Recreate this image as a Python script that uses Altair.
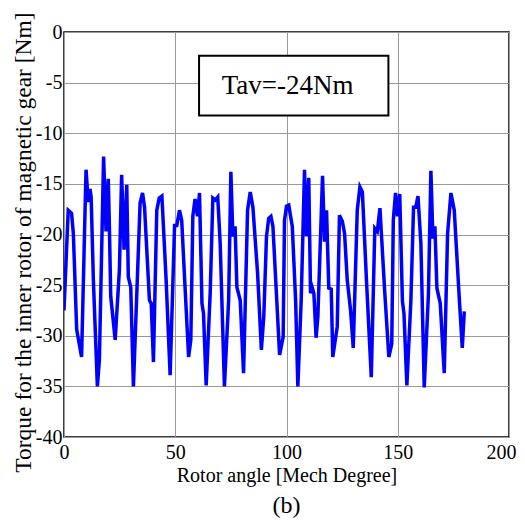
import altair as alt
import pandas as pd

angle = [0, 1.9, 3.4, 4.2, 5.7, 7.9, 9.9, 10.9, 11.7, 12.2, 13.2, 15.0, 15.9, 17.8, 18.9, 19.9,
         20.4, 21.0, 23.0, 24.9, 25.9, 27.0, 28.2, 28.9, 30.0, 31.2, 34.2, 35.3, 36.2, 38.4, 39.2,
         40.2, 41.7, 42.8, 44.0, 45.9, 47.7, 49.7, 50.7, 51.9, 52.9, 54.4, 56.0, 57.0, 57.9, 58.9,
         60.0, 60.9, 62.0, 62.7, 63.9, 65.7, 66.9, 68.0, 69.1, 70.2, 72.1, 74.0, 75.0, 75.9, 76.9,
         77.7, 79.2, 80.7, 82.5, 83.7, 84.9, 87.0, 88.7, 89.8, 91.0, 92.0, 93.0, 93.9, 96.9, 98.5,
         99.1, 100.0, 101.0, 102.6, 104.1, 105.1, 106.6, 108.1, 109.0, 110.0, 110.8, 111.5, 112.3,
         113.3, 114.1, 116.2, 117.1, 118.0, 119.0, 120.1, 120.8, 122.8, 123.8, 125.1, 126.1, 127.3,
         128.8, 130.0, 131.8, 133.0, 134.1, 136.0, 138.1, 139.7, 140.8, 142.0, 144.1, 146.0, 147.3,
         148.0, 149.0, 149.9, 150.9, 152.1, 152.8, 154.1, 155.9, 157.1, 158.1, 159.1, 160.4, 161.9,
         163.8, 164.9, 165.8, 166.7, 167.6, 169.1, 170.9, 172.4, 173.9, 175.4, 177.6, 179.0, 179.9]
torque = [-27.5, -17.6, -17.9, -19.9, -29.4, -32.1, -13.6, -16.8, -15.5, -16.3, -24.5, -35.0, -32.4,
          -12.3, -19.7, -14.5, -19.2, -26.1, -30.4, -23.5, -14.1, -21.5, -15.1, -24.2, -25.2, -35.0,
          -16.9, -15.9, -17.3, -26.5, -26.8, -32.6, -17.6, -16.4, -16.2, -24.5, -33.9, -19.1, -19.1,
          -17.6, -18.6, -25.2, -32.1, -30.4, -18.2, -16.5, -18.2, -15.9, -26.8, -27.8, -34.9, -25.8,
          -16.4, -16.6, -16.3, -20.9, -35.0, -26.5, -13.8, -20.2, -19.2, -25.2, -26.5, -33.7, -17.6,
          -15.8, -17.3, -23.8, -31.4, -28.1, -20.2, -18.4, -18.2, -19.2, -31.9, -30.1, -18.6, -17.2,
          -17.1, -19.2, -26.5, -35.0, -26.5, -13.6, -20.2, -14.4, -25.8, -25.2, -25.8, -30.2, -28.1,
          -14.2, -20.7, -17.6, -25.3, -25.4, -32.1, -29.1, -18.1, -18.7, -19.9, -24.5, -27.5, -31.2,
          -17.6, -15.3, -15.8, -24.8, -34.1, -19.4, -19.7, -17.4, -25.5, -32.1, -30.8, -18.6, -15.9,
          -18.2, -16.0, -26.6, -27.8, -34.9, -26.5, -17.3, -17.3, -16.2, -20.9, -35.1, -25.8, -13.7,
          -20.4, -19.2, -25.3, -26.8, -33.7, -19.9, -15.9, -17.6, -26.1, -31.2, -27.6]

x_ticks = [0, 50, 100, 150, 200]
y_ticks = [0, -5, -10, -15, -20, -25, -30, -35, -40]

box_label = ["Tav=-24Nm"]
box_x = [60.7]
box_x2 = [145.8]
box_y = [-2.35]
box_y2 = [-8.25]
label_x = [100.5]
label_y = [-5.3]

FONT = "Liberation Serif"

df = pd.DataFrame({"angle": angle, "torque": torque})
box_df = pd.DataFrame({"x": box_x, "x2": box_x2, "y": box_y, "y2": box_y2,
                       "lx": label_x, "ly": label_y, "label": box_label})

xscale = alt.Scale(domain=[0, 200], nice=False, zero=False)
yscale = alt.Scale(domain=[-40, 0], nice=False, zero=False)

lab_expr = "datum.value < 0 ? '-' + abs(datum.value) : '' + datum.value"

line = alt.Chart(df).mark_line(color="#0000ff", strokeWidth=3.5, clip=True).encode(
    x=alt.X("angle:Q", scale=xscale,
            axis=alt.Axis(values=x_ticks, title="Rotor angle [Mech Degree]", labelExpr=lab_expr,
                          labelPadding=5, titlePadding=3,
                          labelOffset=alt.condition("datum.value == 200", alt.value(-8), alt.value(0)))),
    y=alt.Y("torque:Q", scale=yscale,
            axis=alt.Axis(values=y_ticks, title="Torque for the inner rotor of magnetic gear [Nm]",
                          labelExpr=lab_expr, labelPadding=2, titlePadding=0,
                          titleFontSize=23.5, titleY=210)),
)

box = alt.Chart(box_df).mark_rect(fill="white", stroke="black", strokeWidth=2).encode(
    x=alt.X("x:Q", scale=xscale), x2="x2:Q",
    y=alt.Y("y:Q", scale=yscale), y2="y2:Q",
)

text = alt.Chart(box_df).mark_text(font=FONT, fontSize=27, color="black",
                                   align="center", baseline="middle").encode(
    x=alt.X("lx:Q", scale=xscale), y=alt.Y("ly:Q", scale=yscale), text="label:N"
)

chart = alt.layer(line, box, text).properties(
    width=445, height=405,
    title=alt.TitleParams("(b)", orient="bottom", font=FONT, fontSize=24, fontWeight="normal",
                          color="black", anchor="middle", offset=9),
    autosize=alt.AutoSizeParams(type="none"),
    padding={"left": 56, "top": 24, "right": 8, "bottom": 82},
).configure(
    background="white", font=FONT
).configure_view(
    stroke="black", strokeWidth=1.5
).configure_axis(
    grid=True, gridColor="#9a9a9a", gridWidth=1, ticks=False, domain=False,
    labelFont=FONT, labelFontSize=20, labelColor="black", labelFlush=False,
    titleFont=FONT, titleFontSize=20, titleFontWeight="normal", titleColor="black",
)

chart.save("out.html", embed_options={"renderer": "svg", "actions": False})
